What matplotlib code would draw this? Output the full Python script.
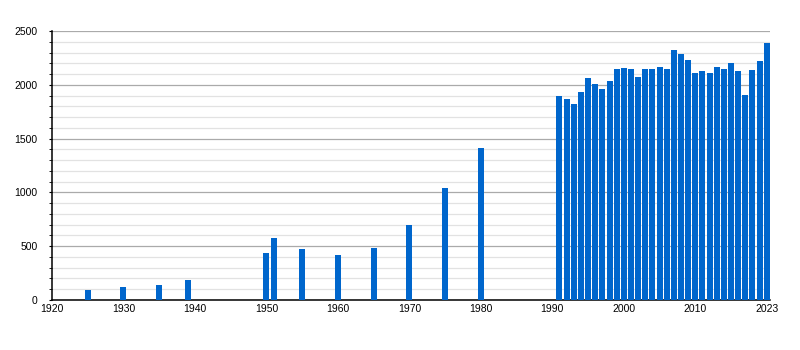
import matplotlib.pyplot as plt
from matplotlib.ticker import MultipleLocator

plt.rcParams['font.family'] = ['Liberation Sans', 'DejaVu Sans']

# yearly values
years = [1925, 1930, 1935, 1939, 1950, 1951, 1955, 1960, 1965, 1970, 1975, 1980,
         1991, 1992, 1993, 1994, 1995, 1996, 1997, 1998, 1999, 2000,
         2001, 2002, 2003, 2004, 2005, 2006, 2007, 2008, 2009, 2010,
         2011, 2012, 2013, 2014, 2015, 2016, 2017, 2018, 2019, 2020]
values = [95, 120, 140, 185, 438, 578, 474, 418, 483, 697, 1041, 1412,
          1898, 1867, 1824, 1932, 2062, 2009, 1960, 2037, 2146, 2155,
          2146, 2075, 2146, 2146, 2165, 2146, 2323, 2286, 2230, 2109,
          2128, 2109, 2165, 2146, 2202, 2128, 1905, 2137, 2221, 2388]

tick_pos = [1920, 1930, 1940, 1950, 1960, 1970, 1980, 1990, 2000, 2010, 2020]
tick_labels = ['1920', '1930', '1940', '1950', '1960', '1970', '1980', '1990',
               '2000', '2010', '2023']

fig = plt.figure(figsize=(8, 3.5), dpi=100)
ax = fig.add_axes([0.065, 0.143, 0.8975, 0.768])

ax.bar(years, values, width=0.84, color='#0066cc', zorder=3)

ax.set_xlim(1920, 2020.45)
ax.set_ylim(0, 2500)
ax.set_xticks(tick_pos)
ax.set_xticklabels(tick_labels)
ax.yaxis.set_major_locator(MultipleLocator(500))
ax.yaxis.set_minor_locator(MultipleLocator(100))

ax.grid(axis='y', which='major', color='#aaaaaa', linewidth=0.9, zorder=1)
ax.grid(axis='y', which='minor', color='#e2e2e2', linewidth=0.9, zorder=1)

for side in ['top', 'right']:
    ax.spines[side].set_visible(False)
ax.spines['left'].set_linewidth(1.1)
ax.spines['bottom'].set_linewidth(1.1)

ax.tick_params(axis='x', length=0, pad=3, labelsize=7.5)
ax.tick_params(axis='y', which='major', length=2.5, pad=8, labelsize=7.5)
ax.tick_params(axis='y', which='minor', length=2.5)

fig.savefig('out.png', dpi=100)
